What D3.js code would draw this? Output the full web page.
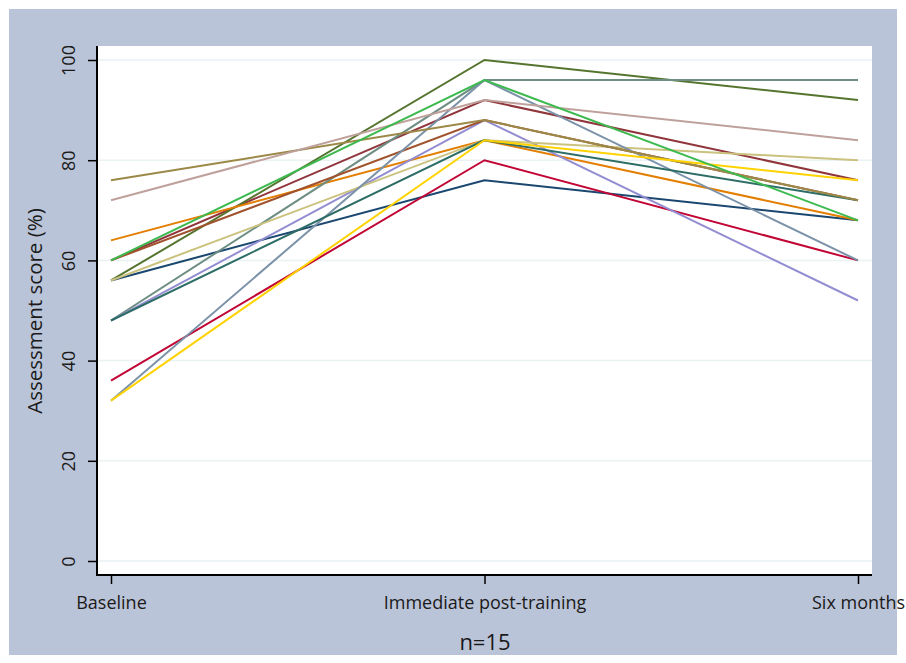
<!DOCTYPE html>
<html><head><meta charset="utf-8">
<script src="https://cdn.jsdelivr.net/npm/d3@7"></script>
<style>body{margin:0;background:#fff;} text{font-family:"Open Sans","Noto Sans",sans-serif;fill:#1a1a1a;}</style>
</head><body>
<svg id="chart" width="906" height="663"></svg>
<script>
const timepoints = ["Baseline", "Immediate post-training", "Six months"];
const yTicks = [0, 20, 40, 60, 80, 100];
const seriesColors = ["#1a476f","#90353b","#55752f","#e37e00","#6e8e84","#c10534","#938dd2","#cac27e","#a0522d","#7b92a8","#2d6d66","#9c8847","#bfa19c","#ffd200","#3dba4f"];
const baseline  = [56, 60, 56, 64, 48, 36, 48, 56, 60, 32, 48, 76, 72, 32, 60];
const immediate = [76, 92, 100, 84, 96, 80, 88, 84, 88, 96, 84, 88, 92, 84, 96];
const sixMonths = [68, 76, 92, 68, 96, 60, 52, 80, 72, 60, 72, 72, 84, 76, 68];
const xTitle = "n=15";
const yTitle = "Assessment score (%)";

const svg = d3.select("#chart");
svg.append("rect").attr("x",9).attr("y",9).attr("width",888).attr("height",646).attr("fill","#bac4d8");
const L=97, R=872, T=46, B=575;
svg.append("rect").attr("x",L).attr("y",T).attr("width",R-L).attr("height",B-T).attr("fill","#ffffff");

const x = d3.scalePoint().domain(timepoints).range([111, 858]);
const y = d3.scaleLinear().domain([0,100]).range([561, 60]);

// gridlines
svg.append("g").selectAll("line").data(yTicks).join("line")
  .attr("x1",L).attr("x2",R).attr("y1",d=>y(d)).attr("y2",d=>y(d))
  .attr("stroke","#eaf2f3").attr("stroke-width",1.5);

// lines
const data = baseline.map((b,i)=>({color:seriesColors[i], vals:[b, immediate[i], sixMonths[i]]}));
const line = d3.line().x((d,j)=>x(timepoints[j])).y(d=>y(d));
svg.append("g").selectAll("path").data(data).join("path")
  .attr("d",d=>line(d.vals)).attr("fill","none")
  .attr("stroke",d=>d.color).attr("stroke-width",2).attr("stroke-linejoin","miter");

// axes
const yAxis = d3.axisLeft(y).tickValues(yTicks).tickSize(9).tickPadding(0);
const gy = svg.append("g").attr("transform",`translate(${L},0)`).call(yAxis);
gy.select(".domain").remove();
gy.selectAll(".tick line").attr("stroke","#000").attr("stroke-width",1.5);
gy.selectAll(".tick text").style("font-size","18px").attr("fill","#1a1a1a").attr("text-anchor","middle")
  .attr("transform","translate(-28,0) rotate(-90)").attr("x",0).attr("y",0).attr("dy","0.35em");
svg.append("line").attr("x1",L).attr("x2",L).attr("y1",T).attr("y2",B+1).attr("stroke","#000").attr("stroke-width",2);

const xAxis = d3.axisBottom(x).tickSize(9).tickPadding(12);
const gx = svg.append("g").attr("transform",`translate(0,${B})`).call(xAxis);
gx.select(".domain").remove();
gx.selectAll(".tick line").attr("stroke","#000").attr("stroke-width",1.5);
gx.selectAll(".tick text").style("font-size","18px").attr("fill","#1a1a1a");
svg.append("line").attr("x1",L-1).attr("x2",R).attr("y1",B).attr("y2",B).attr("stroke","#000").attr("stroke-width",2);

svg.append("text").attr("x",485).attr("y",650).attr("text-anchor","middle").style("font-size","22px").text(xTitle);
svg.append("text").attr("transform","translate(42,311) rotate(-90)").attr("text-anchor","middle").style("font-size","20.5px").text(yTitle);
</script>
</body></html>
